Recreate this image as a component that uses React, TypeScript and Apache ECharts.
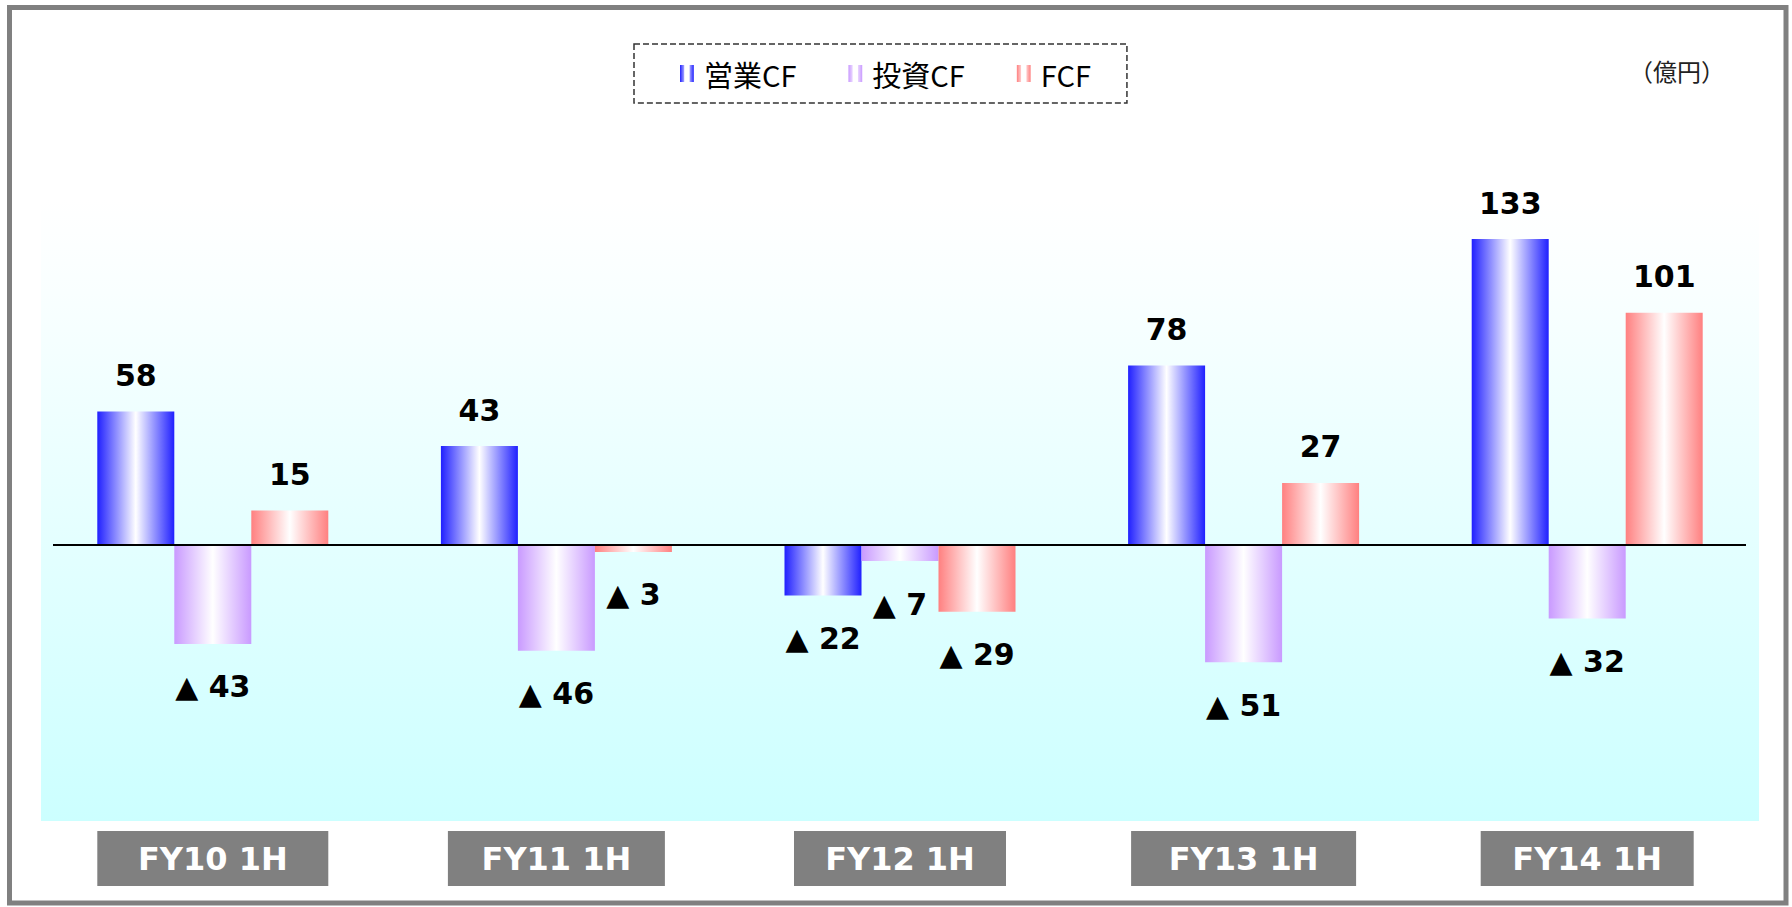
import React, { useEffect, useRef } from "react";
import * as echarts from "echarts";

const categories = ["FY10 1H", "FY11 1H", "FY12 1H", "FY13 1H", "FY14 1H"];
const operatingCF = [58, 43, -22, 78, 133];
const investingCF = [-43, -46, -7, -51, -32];
const freeCF = [15, -3, -29, 27, 101];
const seriesNames = ["営業CF", "投資CF", "FCF"];
const unitLabel = "（億円）";
const labelBoxWidths = [231, 217, 212, 225, 213];

const grad = (edge: string) =>
  new echarts.graphic.LinearGradient(1, 0, 0, 0, [
    { offset: 0, color: edge },
    { offset: 0.5, color: "#ffffff" },
    { offset: 1, color: edge },
  ]);

const NUM_FONT = "'DejaVu Sans', Verdana, sans-serif";
const CJK_FONT = "'Noto Sans CJK JP', sans-serif";
const STRIPE_ICON = "path://M0,0h4v16h-4z M9,0h4v16h-4z";

export default function App() {
  const ref = useRef<HTMLDivElement>(null);
  useEffect(() => {
    if (!ref.current) return;
    const chart = echarts.init(ref.current, undefined, { renderer: "svg" });
    const mkData = (arr: number[]) =>
      arr.map((v) => ({
        value: v,
        label: {
          position: v >= 0 ? "top" : "bottom",
          distance: v >= 0 ? 21 : 28,
        },
      }));
    const labelStyle = {
      show: true,
      fontFamily: NUM_FONT,
      fontWeight: "bold" as const,
      fontSize: 30,
      color: "#000",
      formatter: (p: any) =>
        p.value < 0 ? "▲ " + Math.abs(p.value) : String(p.value),
    };
    const rich: Record<string, any> = {};
    labelBoxWidths.forEach((w, i) => {
      rich["l" + i] = {
        width: w,
        height: 55,
        lineHeight: 55,
        align: "center",
        backgroundColor: "#808080",
        color: "#ffffff",
        fontFamily: NUM_FONT,
        fontWeight: "bold",
        fontSize: 32,
      };
    });
    const colors = [grad("#2020ff"), grad("#c99aff"), grad("#ff8080")];
    const datasets = [operatingCF, investingCF, freeCF];
    chart.setOption({
      animation: false,
      backgroundColor: "#ffffff",
      grid: {
        left: 41,
        right: 33,
        top: 200,
        bottom: 86,
        show: true,
        borderWidth: 0,
        backgroundColor: new echarts.graphic.LinearGradient(0, 0, 0, 1, [
          { offset: 0, color: "#ffffff" },
          { offset: 0.15, color: "#f9ffff" },
          { offset: 1, color: "#ccffff" },
        ]),
      },
      legend: {
        left: 634,
        top: 44,
        padding: [15, 36, 15, 46],
        itemGap: 52,
        itemWidth: 14,
        itemHeight: 17,
        icon: STRIPE_ICON,
        borderColor: "#333",
        borderWidth: 1.5,
        borderType: "dashed",
        textStyle: {
          fontFamily: CJK_FONT,
          fontSize: 29,
          color: "#000",
          padding: [0, 0, 0, 5],
        },
        data: seriesNames,
      },
      xAxis: {
        type: "category",
        data: categories,
        axisLine: { show: false },
        axisTick: { show: false },
        splitLine: { show: false },
        axisLabel: {
          margin: 10,
          interval: 0,
          formatter: (v: string, i: number) => `{l${i}|${v}}`,
          rich,
        },
      },
      yAxis: {
        type: "value",
        min: -120,
        max: 150,
        show: false,
        splitLine: { show: false },
      },
      series: datasets.map((d, i) => ({
        name: seriesNames[i],
        type: "bar",
        barWidth: 77,
        barGap: "0%",
        itemStyle: { color: colors[i] },
        label: labelStyle,
        data: mkData(d),
      })),
    });
    const y0 = chart.convertToPixel({ yAxisIndex: 0 }, 0) as number;
    chart.setOption({
      graphic: [
        {
          type: "rect",
          shape: { x: 9.5, y: 7.5, width: 1776.5, height: 895.5 },
          style: { fill: "none", stroke: "#808080", lineWidth: 5 },
          silent: true,
        },
        {
          type: "line",
          shape: { x1: 53, y1: y0, x2: 1746, y2: y0 },
          style: { stroke: "#000000", lineWidth: 2 },
          silent: true,
          z: 10,
        },
        {
          type: "text",
          x: 1677,
          y: 70,
          style: {
            text: unitLabel,
            fontFamily: CJK_FONT,
            fontSize: 24,
            fill: "#222",
            align: "center",
            verticalAlign: "middle",
          },
        },
      ],
    });
    return () => chart.dispose();
  }, []);
  return (
    <div
      ref={ref}
      style={{ position: "fixed", left: 0, top: 0, width: 1792, height: 907 }}
    />
  );
}
